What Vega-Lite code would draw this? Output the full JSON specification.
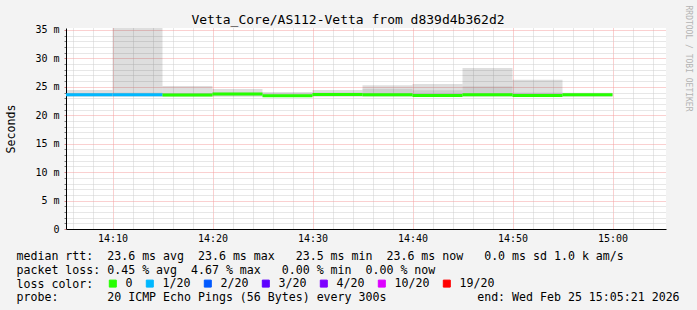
{
  "$schema": "https://vega.github.io/schema/vega-lite/v6.json",
  "width": 600,
  "height": 201,
  "autosize": {"type": "none"},
  "padding": {"left": 66, "top": 28, "right": 31, "bottom": 81},
  "background": "#f3f3f3",
  "config": {
    "font": "DejaVu Sans Mono",
    "view": {"fill": "white", "stroke": null},
    "axis": {"labelFont": "DejaVu Sans Mono", "titleFont": "DejaVu Sans Mono"}
  },
  "data": {
    "values": [
      {"start": "2026-02-25T14:05:00Z", "end": "2026-02-25T14:10:00Z", "median": 23.6, "loss": "1/20", "lo": 23.3, "mid": 23.9, "max": 24.45},
      {"start": "2026-02-25T14:10:00Z", "end": "2026-02-25T14:15:00Z", "median": 23.6, "loss": "1/20", "lo": 23.3, "mid": 24.0, "max": 35.35},
      {"start": "2026-02-25T14:15:00Z", "end": "2026-02-25T14:20:00Z", "median": 23.55, "loss": "0", "lo": 23.3, "mid": 23.9, "max": 25.15},
      {"start": "2026-02-25T14:20:00Z", "end": "2026-02-25T14:25:00Z", "median": 23.75, "loss": "0", "lo": 23.3, "mid": 24.0, "max": 24.6},
      {"start": "2026-02-25T14:25:00Z", "end": "2026-02-25T14:30:00Z", "median": 23.45, "loss": "0", "lo": 23.3, "mid": 23.8, "max": 24.1},
      {"start": "2026-02-25T14:30:00Z", "end": "2026-02-25T14:35:00Z", "median": 23.65, "loss": "0", "lo": 23.3, "mid": 24.0, "max": 24.45},
      {"start": "2026-02-25T14:35:00Z", "end": "2026-02-25T14:40:00Z", "median": 23.6, "loss": "0", "lo": 23.3, "mid": 24.6, "max": 25.3},
      {"start": "2026-02-25T14:40:00Z", "end": "2026-02-25T14:45:00Z", "median": 23.5, "loss": "0", "lo": 23.3, "mid": 24.4, "max": 25.5},
      {"start": "2026-02-25T14:45:00Z", "end": "2026-02-25T14:50:00Z", "median": 23.6, "loss": "0", "lo": 23.3, "mid": 25.1, "max": 28.3},
      {"start": "2026-02-25T14:50:00Z", "end": "2026-02-25T14:55:00Z", "median": 23.5, "loss": "0", "lo": 23.3, "mid": 24.0, "max": 26.25},
      {"start": "2026-02-25T14:55:00Z", "end": "2026-02-25T15:00:00Z", "median": 23.6, "loss": "0", "lo": 23.3, "mid": 23.8, "max": 23.95}
    ]
  },
  "resolve": {"axis": {"x": "independent", "y": "independent"}},
  "layer": [
    {
      "mark": {"type": "rect", "clip": true, "fill": "black", "fillOpacity": 0.13},
      "encoding": {
        "x": {
          "field": "start", "type": "temporal",
          "scale": {"type": "utc", "nice": false,
            "domain": [
              {"year": 2026, "month": 2, "date": 25, "hours": 14, "minutes": 5, "seconds": 21, "utc": true},
              {"year": 2026, "month": 2, "date": 25, "hours": 15, "minutes": 5, "seconds": 21, "utc": true}
            ]},
          "axis": {
            "orient": "bottom",
            "values": [
              {"year": 2026, "month": 2, "date": 25, "hours": 14, "minutes": 6, "utc": true},
              {"year": 2026, "month": 2, "date": 25, "hours": 14, "minutes": 8, "utc": true},
              {"year": 2026, "month": 2, "date": 25, "hours": 14, "minutes": 12, "utc": true},
              {"year": 2026, "month": 2, "date": 25, "hours": 14, "minutes": 14, "utc": true},
              {"year": 2026, "month": 2, "date": 25, "hours": 14, "minutes": 16, "utc": true},
              {"year": 2026, "month": 2, "date": 25, "hours": 14, "minutes": 18, "utc": true},
              {"year": 2026, "month": 2, "date": 25, "hours": 14, "minutes": 22, "utc": true},
              {"year": 2026, "month": 2, "date": 25, "hours": 14, "minutes": 24, "utc": true},
              {"year": 2026, "month": 2, "date": 25, "hours": 14, "minutes": 26, "utc": true},
              {"year": 2026, "month": 2, "date": 25, "hours": 14, "minutes": 28, "utc": true},
              {"year": 2026, "month": 2, "date": 25, "hours": 14, "minutes": 32, "utc": true},
              {"year": 2026, "month": 2, "date": 25, "hours": 14, "minutes": 34, "utc": true},
              {"year": 2026, "month": 2, "date": 25, "hours": 14, "minutes": 36, "utc": true},
              {"year": 2026, "month": 2, "date": 25, "hours": 14, "minutes": 38, "utc": true},
              {"year": 2026, "month": 2, "date": 25, "hours": 14, "minutes": 42, "utc": true},
              {"year": 2026, "month": 2, "date": 25, "hours": 14, "minutes": 44, "utc": true},
              {"year": 2026, "month": 2, "date": 25, "hours": 14, "minutes": 46, "utc": true},
              {"year": 2026, "month": 2, "date": 25, "hours": 14, "minutes": 48, "utc": true},
              {"year": 2026, "month": 2, "date": 25, "hours": 14, "minutes": 52, "utc": true},
              {"year": 2026, "month": 2, "date": 25, "hours": 14, "minutes": 54, "utc": true},
              {"year": 2026, "month": 2, "date": 25, "hours": 14, "minutes": 56, "utc": true},
              {"year": 2026, "month": 2, "date": 25, "hours": 14, "minutes": 58, "utc": true},
              {"year": 2026, "month": 2, "date": 25, "hours": 15, "minutes": 2, "utc": true},
              {"year": 2026, "month": 2, "date": 25, "hours": 15, "minutes": 4, "utc": true}
            ],
            "grid": true, "gridColor": "#cfcfcf", "gridDash": [1, 1], "labels": false, "ticks": false, "domain": false,
            "title": "probe:\u00a0\u00a0\u00a0\u00a0\u00a0\u00a0\u00a020 ICMP Echo Pings (56 Bytes) every 300s\u00a0\u00a0\u00a0\u00a0\u00a0\u00a0\u00a0\u00a0\u00a0\u00a0\u00a0\u00a0\u00a0end: Wed Feb 25 15:05:21 2026",
            "titleFontSize": 11.6, "titleFontWeight": "normal", "titleColor": "black",
            "titleAlign": "left", "titleAnchor": "start", "titleX": -50, "titleY": 68.5,
            "titleBaseline": "middle"
          }
        },
        "x2": {"field": "end"},
        "y": {
          "field": "lo", "type": "quantitative",
          "scale": {"domain": [0, 35.35], "nice": false, "zero": false},
          "axis": {"orient": "left", "values": [1,2,3,4,6,7,8,9,11,12,13,14,16,17,18,19,21,22,23,24,26,27,28,29,31,32,33,34], "grid": true, "gridColor": "#cfcfcf", "gridDash": [1, 1], "labels": false, "ticks": true, "tickSize": 2, "tickColor": "#777777", "domain": false,
            "title": "loss color:", "titleFontSize": 11.6, "titleFontWeight": "normal", "titleColor": "black",
            "titleAngle": 0, "titleAlign": "left", "titleX": -50, "titleY": 256, "titleBaseline": "middle"}
        },
        "y2": {"field": "max"}
      }
    },
    {
      "mark": {"type": "rect", "clip": true, "fill": "black", "fillOpacity": 0.07},
      "encoding": {
        "x": {
          "field": "start", "type": "temporal",
          "axis": {
            "orient": "bottom",
            "values": [
              {"year": 2026, "month": 2, "date": 25, "hours": 14, "minutes": 10, "utc": true},
              {"year": 2026, "month": 2, "date": 25, "hours": 14, "minutes": 20, "utc": true},
              {"year": 2026, "month": 2, "date": 25, "hours": 14, "minutes": 30, "utc": true},
              {"year": 2026, "month": 2, "date": 25, "hours": 14, "minutes": 40, "utc": true},
              {"year": 2026, "month": 2, "date": 25, "hours": 14, "minutes": 50, "utc": true},
              {"year": 2026, "month": 2, "date": 25, "hours": 15, "minutes": 0, "utc": true}
            ],
            "format": "%H:%M",
            "grid": true, "gridColor": "#f4a0a0", "gridDash": [1, 1],
            "ticks": false, "labelPadding": 4, "labelFontSize": 10, "labelColor": "black", "labelFlush": false,
            "domainColor": "black", "domainWidth": 1,
            "title": [
              "median rtt:\u00a0\u00a023.6 ms avg\u00a0\u00a023.6 ms max\u00a0\u00a0\u00a023.5 ms min\u00a0\u00a023.6 ms now\u00a0\u00a0\u00a00.0 ms sd 1.0 k am/s",
              "packet loss: 0.45 % avg\u00a0\u00a04.67 % max\u00a0\u00a0\u00a00.00 % min\u00a0\u00a00.00 % now"
            ],
            "titleFontSize": 11.6, "titleFontWeight": "normal", "titleColor": "black",
            "titleAlign": "left", "titleAnchor": "start", "titleX": -50, "titleY": 27.5,
            "titleBaseline": "middle", "titleLineHeight": 13.7
          }
        },
        "x2": {"field": "end"},
        "y": {
          "field": "lo", "type": "quantitative",
          "axis": {
            "orient": "left",
            "values": [0, 5, 10, 15, 20, 25, 30, 35],
            "labelExpr": "datum.value == 0 ? '0' : datum.value + ' m'",
            "grid": true, "gridColor": "#f4a0a0", "gridDash": [1, 1],
            "ticks": true, "tickSize": 2, "tickColor": "#d08080", "labelPadding": 5,
            "labelFontSize": 10, "labelColor": "black",
            "domainColor": "black", "domainWidth": 1,
            "title": "Seconds", "titleFontSize": 11.6, "titleFontWeight": "normal", "titleColor": "black",
            "titleX": -55, "titleY": 100.5, "titleAngle": 270, "titleAlign": "center", "titleBaseline": "middle"
          }
        },
        "y2": {"field": "mid"}
      }
    },
    {
      "mark": {"type": "rule", "clip": true, "strokeWidth": 3, "strokeCap": "butt"},
      "encoding": {
        "x": {
          "field": "start", "type": "temporal",
          "axis": {"orient": "top", "labels": false, "ticks": false, "domain": false, "grid": false,
            "title": "Vetta_Core/AS112-Vetta from d839d4b362d2", "titleFontSize": 13, "titleFontWeight": "normal", "titleColor": "black",
            "titleX": 281.5, "titleY": -5, "titleAlign": "center", "titleBaseline": "alphabetic"}
        },
        "x2": {"field": "end"},
        "y": {
          "field": "median", "type": "quantitative",
          "axis": {"orient": "right", "labels": false, "ticks": false, "domain": false, "grid": false,
            "title": "RRDTOOL / TOBI OETIKER", "titleFontSize": 8, "titleFontWeight": "normal", "titleColor": "#b4b4b4",
            "titleAngle": 90, "titleX": 21, "titleY": 30, "titleAlign": "center", "titleBaseline": "middle"}
        },
        "color": {
          "field": "loss", "type": "nominal",
          "scale": {
            "domain": ["0", "1/20", "2/20", "3/20", "4/20", "10/20", "19/20"],
            "range": ["#26ff00", "#00b8ff", "#0059ff", "#5e00ff", "#7e00ff", "#dd00ff", "#ff0000"]
          },
          "legend": {
            "orient": "none", "direction": "horizontal", "title": null,
            "legendX": 41, "legendY": 249.5,
            "symbolType": "square", "symbolSize": 49, "symbolStrokeWidth": 1, "symbolStrokeColor": "black",
            "labelFont": "DejaVu Sans Mono", "labelFontSize": 11.6, "labelColor": "black", "labelOffset": 7,
            "columnPadding": 11,
            "encode": {"symbols": {"update": {"fill": {"scale": "color", "field": "value"}, "stroke": {"value": "black"}, "strokeWidth": {"value": 1}, "opacity": {"value": 1}, "fillOpacity": {"value": 1}, "strokeOpacity": {"value": 1}}}}
          }
        }
      }
    }
  ]
}
